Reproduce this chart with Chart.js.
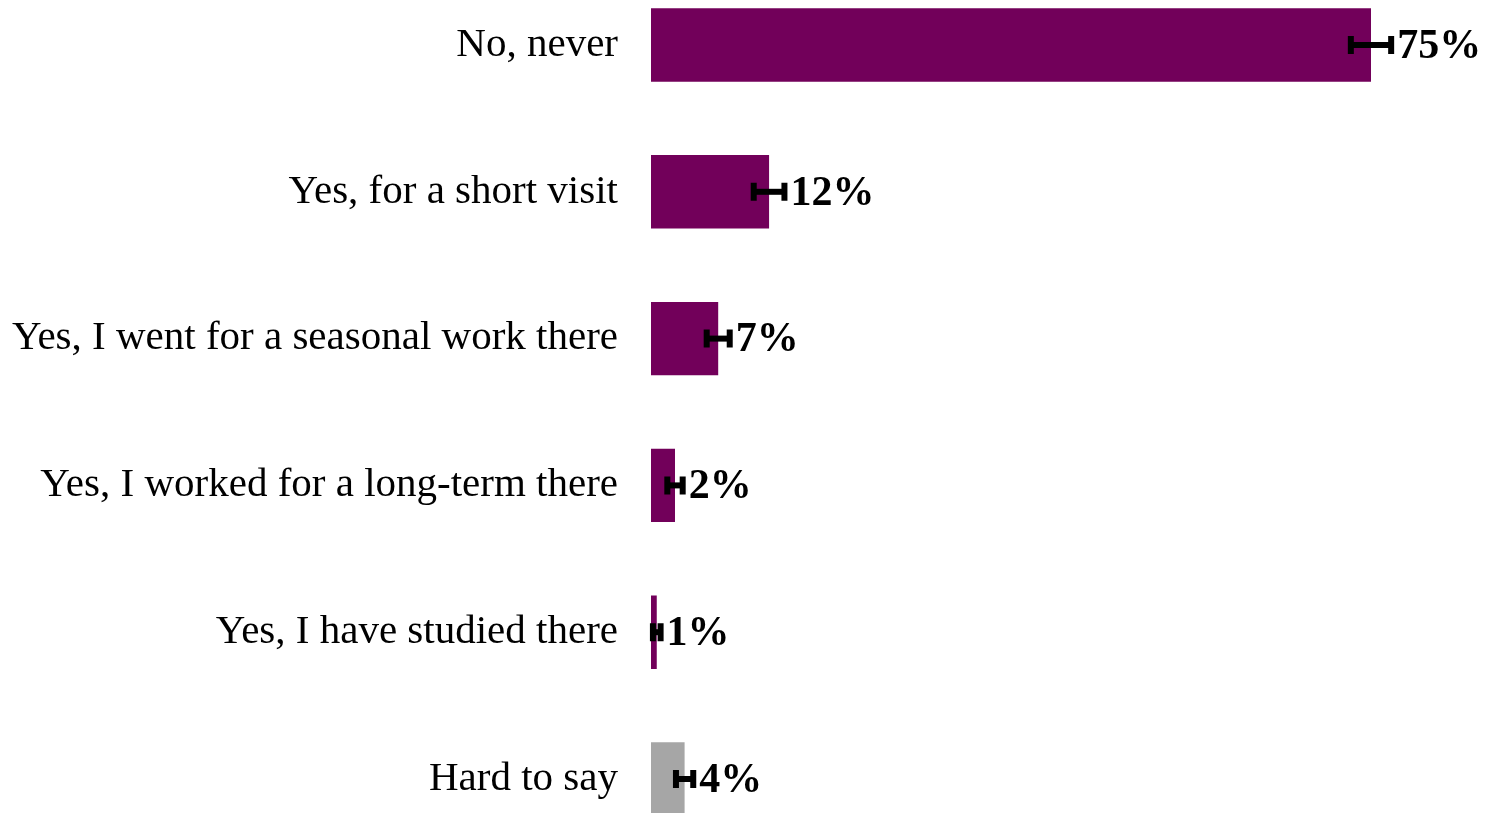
<!DOCTYPE html>
<html>
<head>
<meta charset="utf-8">
<script src="https://cdn.jsdelivr.net/npm/chart.js@4"></script>
<style>
  html, body { margin: 0; padding: 0; background: #fff; overflow: hidden; }
  #wrap { position: absolute; left: 0; top: -78px; width: 1488px; height: 980px; }
</style>
</head>
<body>
<div id="wrap"><canvas id="surveyChart"></canvas></div>
<script>
const categories = [
    'No, never',
    'Yes, for a short visit',
    'Yes, I went for a seasonal work there',
    'Yes, I worked for a long-term there',
    'Yes, I have studied there',
    'Hard to say'
];
const values = [75, 12.3, 7, 2.5, 0.6, 3.5];
const errors = [2.1, 1.6, 1.2, 0.8, 0.4, 0.9];
const valueLabels = ['75%', '12%', '7%', '2%', '1%', '4%'];
const barColors = ['#72005A', '#72005A', '#72005A', '#72005A', '#72005A', '#A6A6A6'];

const errorBars = {
    id: 'errorBars',
    afterDatasetsDraw(chart) {
        const ctx = chart.ctx;
        const x = chart.scales.x;
        chart.getDatasetMeta(0).data.forEach((bar, i) => {
            const lo = x.getPixelForValue(values[i] - errors[i]);
            const hi = x.getPixelForValue(values[i] + errors[i]);
            const y = bar.y;
            ctx.save();
            ctx.strokeStyle = '#000';
            ctx.lineWidth = 6;
            ctx.beginPath();
            ctx.moveTo(lo, y);
            ctx.lineTo(hi, y);
            ctx.stroke();
            ctx.beginPath();
            ctx.moveTo(lo, y - 9);
            ctx.lineTo(lo, y + 9);
            ctx.moveTo(hi, y - 9);
            ctx.lineTo(hi, y + 9);
            ctx.stroke();
            ctx.fillStyle = '#000';
            ctx.font = 'bold 42px "Liberation Serif"';
            ctx.textBaseline = 'middle';
            ctx.textAlign = 'left';
            ctx.fillText(valueLabels[i], hi + 6, y + 2);
            ctx.restore();
        });
    }
};

const ctx = document.getElementById('surveyChart').getContext('2d');
const surveyChart = new Chart(ctx, {
    type: 'bar',
    data: {
        labels: categories,
        datasets: [{
            data: values,
            backgroundColor: barColors,
            borderWidth: 0,
            categoryPercentage: 1,
            barPercentage: 0.5
        }]
    },
    options: {
        indexAxis: 'y',
        responsive: true,
        maintainAspectRatio: false,
        animation: false,
        layout: { padding: { left: 0, right: 69, top: 0, bottom: 0 } },
        plugins: {
            legend: { display: false },
            tooltip: { enabled: false }
        },
        scales: {
            x: {
                min: 0,
                max: 80,
                display: false
            },
            y: {
                grid: { display: false },
                border: { display: false },
                ticks: {
                    color: '#000',
                    padding: 25,
                    font: { family: '"Liberation Serif"', size: 41 }
                },
                afterFit(scale) { scale.width = 651; }
            }
        }
    },
    plugins: [errorBars]
});
</script>
</body>
</html>
